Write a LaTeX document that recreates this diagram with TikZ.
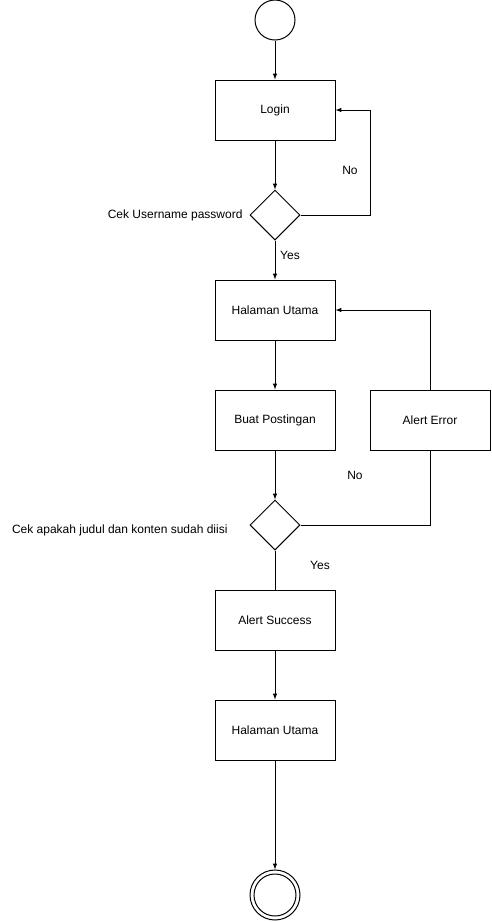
\documentclass[tikz,border=0pt]{standalone}
\usepackage{fontspec}
\setmainfont{Liberation Sans}
\usetikzlibrary{shapes.geometric}
\begin{document}
\begin{tikzpicture}[>=latex,x=1pt,y=-1pt,line width=1pt,font=\fontsize{12}{14}\selectfont,
	box/.style={draw,minimum width=120pt,minimum height=60pt,inner sep=0pt},
	cek/.style={draw,shape=diamond,minimum width=50pt,minimum height=50pt,inner sep=0pt}]
	\useasboundingbox (0,0) rectangle (491,922);
	
	\begin{scope}
		\node[draw,circle,minimum size=40pt,inner sep=0pt] (start) at (275,20) {};
		\node[box] (login) at (275,110) {Login};
		\node[cek] (cek1) at (275,215) {};
		\node[box] (utama1) at (275,310) {Halaman Utama};
		\node[box] (posting) at (275,420) {Buat Postingan};
		\node[box] (error) at (430,420) {Alert Error};
		\node[cek] (cek2) at (275,525) {};
		\node[box] (success) at (275,620) {Alert Success};
		\node[box] (utama2) at (275,730) {Halaman Utama};
		\node[draw,circle,minimum size=50pt,inner sep=0pt] (end) at (275,895) {};
		\draw (end) circle (21);
	\end{scope}
	
	\node[anchor=east,inner sep=0pt] at (243,215) {Cek Username password};
	\node[anchor=east,inner sep=0pt] at (228,530) {Cek apakah judul dan konten sudah diisi};
	
	\draw[->] (start) -- (login);
	\draw[->] (login) -- (cek1);
	\draw[->] (cek1.east) -- (370,215) -- (370,110) -- (login.east);
	\node at (350,170) {No};
	\draw[->] (cek1) -- (utama1);
	\node at (290,255) {Yes};
	\draw[->] (utama1) -- (posting);
	\draw[->] (posting) -- (cek2);
	\draw (cek2.east) -- (430,525) -- (error.south);
	\node at (355,475) {No};
	\draw[->] (error.north) -- (430,310) -- (utama1.east);
	\draw (cek2) -- (success);
	\node at (320,565) {Yes};
	\draw[->] (success) -- (utama2);
	\draw[->] (utama2) -- (end);
	
\end{tikzpicture}
\end{document}
